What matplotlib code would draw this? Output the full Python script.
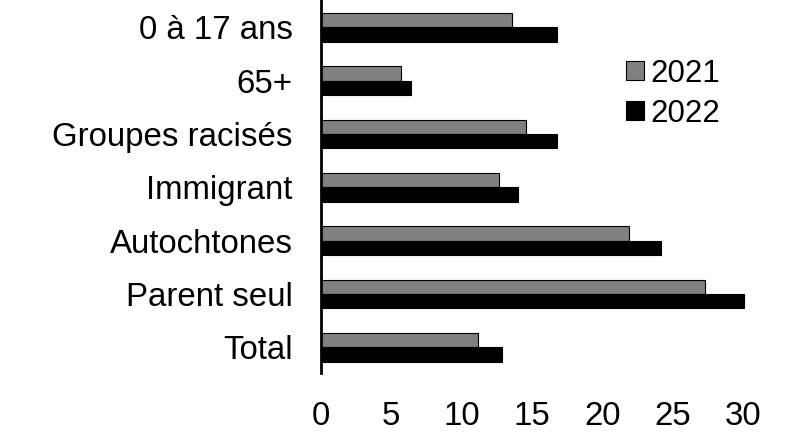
import matplotlib
matplotlib.use("Agg")
import matplotlib.pyplot as plt
import numpy as np

plt.rcParams['font.family'] = ['Liberation Sans', 'DejaVu Sans']

categories = ["Total", "Parent seul", "Autochtones", "Immigrant", "Groupes racisés", "65+", "0 à 17 ans"]
values_2021 = [11.2, 27.3, 21.9, 12.7, 14.6, 5.7, 13.6]
values_2022 = [12.9, 30.1, 24.2, 14.0, 16.8, 6.4, 16.8]
xticks = [0, 5, 10, 15, 20, 25, 30]

fig = plt.figure(figsize=(7.91, 4.38), dpi=100)
ax = fig.add_axes([320.5/791, 1 - 373/438, (743 - 320.5)/791, 373/438])

y = np.arange(len(categories))
h = 0.27
ax.barh(y + h/2, values_2021, height=h, color="#808080", edgecolor="black", linewidth=0.8, label="2021", clip_on=False)
ax.barh(y - h/2, values_2022, height=h, color="black", edgecolor="black", linewidth=0.8, label="2022", clip_on=False)

ax.set_xlim(0, 30)
ax.set_ylim(-0.48, 6.51)
ax.set_yticks(y)
ax.set_yticklabels(categories)
ax.set_xticks(xticks)
ax.set_xticklabels([str(t) for t in xticks])
ax.tick_params(axis='both', length=0, labelsize=23.8)
ax.tick_params(axis='y', pad=20)
ax.tick_params(axis='x', pad=20.5)
for s in ['top', 'right', 'bottom']:
    ax.spines[s].set_visible(False)
ax.spines['left'].set_linewidth(2)

leg = fig.legend(loc='upper left', bbox_to_anchor=(626/791, 1 - 58.5/438), frameon=False,
                 fontsize=22.5, handlelength=0.576, handleheight=0.576, handletextpad=0.21,
                 labelspacing=0.32, borderpad=0, borderaxespad=0)

fig.savefig("out.png", dpi=100)
